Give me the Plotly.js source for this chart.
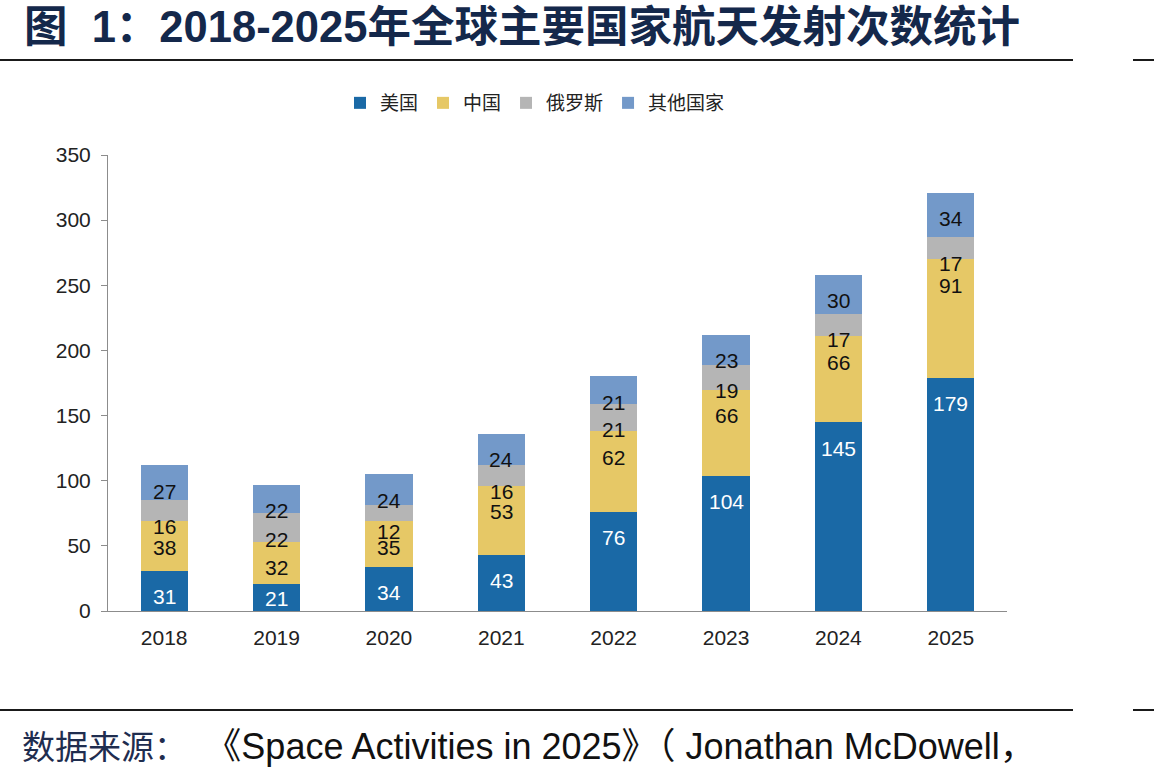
<!DOCTYPE html>
<html>
<head>
<meta charset="utf-8">
<script src="https://cdn.plot.ly/plotly-3.0.1.min.js"></script>
<style>
  html, body { margin: 0; padding: 0; background: #ffffff; }
  #chart { width: 1154px; height: 779px; }
</style>
</head>
<body>
<div id="chart"></div>
<script>
// ---- Data ----
const years = ['2018', '2019', '2020', '2021', '2022', '2023', '2024', '2025'];
const seriesNames = ['美国', '中国', '俄罗斯', '其他国家'];
const usa = [31, 21, 34, 43, 76, 104, 145, 179];
const china = [38, 32, 35, 53, 62, 66, 66, 91];
const russia = [16, 22, 12, 16, 21, 19, 17, 17];
const others = [27, 22, 24, 24, 21, 23, 30, 34];
const yTicks = [0, 50, 100, 150, 200, 250, 300, 350];

const titleText = '图&nbsp;&nbsp;1：2018-2025年全球主要国家航天发射次数统计';
const sourceCn = '数据来源：';
const sourceEn = '《Space Activities in 2025》（ Jonathan McDowell，';

// ---- Styles ----
const colors = ['#1A69A6', '#E6C866', '#B5B5B5', '#7399C9'];
const labelColors = ['#FFFFFF', '#111111', '#111111', '#111111'];
const W = 1154, H = 779;
const margin = { l: 108, r: 147, t: 155, b: 168 };
const plotH = H - margin.t - margin.b;
const plotW = W - margin.l - margin.r;
const yMax = 350;
const pxPerUnit = plotH / yMax;
const latin = 'Liberation Sans, Arial, sans-serif';
const cjk = 'Liberation Sans, Arial, Noto Sans CJK SC, sans-serif';

const series = [usa, china, russia, others];

const traces = series.map((vals, i) => ({
  type: 'bar',
  name: seriesNames[i],
  x: years,
  y: vals,
  marker: { color: colors[i], line: { width: 0 } },
  hoverinfo: 'skip'
}));

// data labels (Excel "inside end" style); x given as category index
const annotations = [];
years.forEach((yr, j) => {
  let cum = 0;
  series.forEach((vals, s) => {
    cum += vals[j];
    const shift = Math.min(26, cum * pxPerUnit - 13);
    annotations.push({
      x: j, y: cum, xref: 'x', yref: 'y',
      text: String(vals[j]),
      showarrow: false,
      yanchor: 'middle',
      yshift: -shift,
      borderpad: 0,
      font: { family: latin, size: 21, color: labelColors[s] }
    });
  });
});

// pixel -> paper helpers for decorative lines/text
const px = (x) => (x - margin.l) / plotW;
const py = (y) => (H - margin.b - y) / plotH;

annotations.push({
  xref: 'paper', yref: 'paper',
  x: px(20), y: py(746),
  xanchor: 'left', yanchor: 'middle',
  showarrow: false,
  text: '<span style="fill:#1F2D4F">' + sourceCn + '</span>&nbsp;&nbsp;<span style="font-size:36px">' + sourceEn + '</span>',
  font: { family: cjk, size: 33, color: '#111111' }
});

const lineStyle = { color: '#1A1A1A', width: 2 };
const shapes = [
  { type: 'line', xref: 'paper', yref: 'paper', x0: px(0), x1: px(1073), y0: py(60), y1: py(60), line: lineStyle },
  { type: 'line', xref: 'paper', yref: 'paper', x0: px(1133), x1: px(1154), y0: py(60), y1: py(60), line: lineStyle },
  { type: 'line', xref: 'paper', yref: 'paper', x0: px(0), x1: px(1073), y0: py(710), y1: py(710), line: lineStyle },
  { type: 'line', xref: 'paper', yref: 'paper', x0: px(1133), x1: px(1154), y0: py(710), y1: py(710), line: lineStyle }
];

const layout = {
  width: W, height: H,
  margin: margin,
  paper_bgcolor: '#FFFFFF',
  plot_bgcolor: '#FFFFFF',
  barmode: 'stack',
  bargap: 0.58,
  showlegend: true,
  title: {
    text: '<b>' + titleText + '</b>',
    xref: 'container', yref: 'container',
    x: 24 / W, xanchor: 'left',
    y: 1 - 27 / H, yanchor: 'middle',
    font: { family: cjk, size: 43.5, color: '#14284B' }
  },
  legend: {
    orientation: 'h',
    x: px(535), xanchor: 'center',
    y: py(103), yanchor: 'middle',
    font: { family: 'Noto Sans CJK SC, sans-serif', size: 19, color: '#222222' },
    traceorder: 'normal',
    itemclick: false
  },
  xaxis: {
    type: 'category',
    range: [-0.5, years.length - 0.5],
    showline: true, linecolor: '#8C8C8C', linewidth: 1,
    ticks: '', showgrid: false, zeroline: false,
    ticklabelstandoff: 8,
    tickfont: { family: latin, size: 21, color: '#222222' }
  },
  yaxis: {
    range: [0, yMax],
    tickvals: yTicks,
    showline: true, linecolor: '#8C8C8C', linewidth: 1,
    ticks: 'outside', ticklen: 6, tickcolor: '#8C8C8C',
    showgrid: false, zeroline: false,
    ticklabelstandoff: 6,
    tickfont: { family: latin, size: 21, color: '#222222' }
  },
  annotations: annotations,
  shapes: shapes
};

Plotly.newPlot('chart', traces, layout, { staticPlot: true, displayModeBar: false });
</script>
</body>
</html>
